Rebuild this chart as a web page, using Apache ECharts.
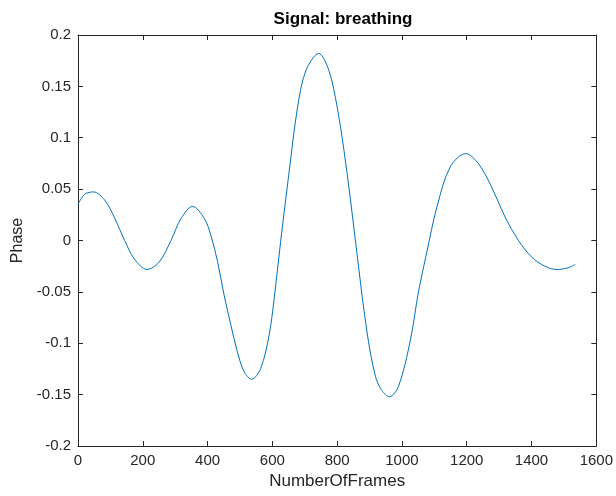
<!DOCTYPE html>
<html>
<head>
<meta charset="utf-8">
<script src="https://cdn.jsdelivr.net/npm/echarts@6/dist/echarts.min.js"></script>
<style>html,body{margin:0;padding:0;background:#fff;}#c{width:616px;height:496px;}</style>
</head>
<body>
<div id="c"></div>
<script>
const titleText = 'Signal: breathing';
const xLabel = 'NumberOfFrames';
const yLabel = 'Phase';
const frames = [0, 21, 48, 82, 113, 144, 174, 213, 251, 287, 318, 354, 390, 410, 431, 451, 472, 492, 513, 536, 564, 590, 605, 626, 651, 677, 703, 743, 774, 800, 820, 841, 867, 892, 918, 938, 962, 990, 1026, 1051, 1077, 1108, 1149, 1197, 1236, 1277, 1318, 1359, 1400, 1441, 1477, 1513, 1535];
const phase = [0.0353, 0.045, 0.0473, 0.0395, 0.022, 0.0, -0.0180, -0.0282, -0.0208, 0.0, 0.0214, 0.0332, 0.0214, 0.0052, -0.0208, -0.0532, -0.0824, -0.1084, -0.1278, -0.1350, -0.1245, -0.092, -0.058, 0.0003, 0.065, 0.128, 0.1650, 0.1820, 0.1660, 0.1300, 0.0900, 0.0400, -0.028, -0.0890, -0.1320, -0.1460, -0.1520, -0.1415, -0.097, -0.050, -0.0110, 0.0327, 0.0716, 0.0846, 0.0749, 0.052, 0.023, 0.0003, -0.016, -0.025, -0.0282, -0.0266, -0.0233];
const xTicks = [0, 1600, 200];
const yTicks = [-0.2, 0.2, 0.05];

const data = frames.map((f, i) => [f, phase[i]]);
const axisColor = '#262626';
const font = 'Liberation Sans, Arial, sans-serif';
const chart = echarts.init(document.getElementById('c'));
const baseAxis = {
  axisLine: { show: true, onZero: false, lineStyle: { color: axisColor, width: 1 } },
  axisTick: { show: true, inside: true, length: 5, lineStyle: { color: axisColor } },
  splitLine: { show: false },
  minorTick: { show: false }
};
chart.setOption({
  animation: false,
  backgroundColor: '#fff',
  title: {
    text: titleText, left: 338, top: 6, textAlign: 'center',
    textStyle: { fontFamily: font, fontSize: 17, fontWeight: 'bold', color: '#000' }
  },
  grid: { left: 78, right: 18, top: 35, bottom: 50, containLabel: false },
  xAxis: [
    Object.assign({}, baseAxis, {
      type: 'value', min: xTicks[0], max: xTicks[1], interval: xTicks[2], position: 'bottom',
      name: xLabel, nameLocation: 'middle', nameGap: 26,
      nameTextStyle: { fontFamily: font, fontSize: 17, color: axisColor },
      axisLabel: { fontFamily: font, fontSize: 15, color: axisColor, margin: 7,
        formatter: v => String(v) }
    }),
    Object.assign({}, baseAxis, {
      type: 'value', min: xTicks[0], max: xTicks[1], interval: xTicks[2], position: 'top',
      axisLabel: { show: false }
    })
  ],
  yAxis: [
    Object.assign({}, baseAxis, {
      type: 'value', min: yTicks[0], max: yTicks[1], interval: yTicks[2], position: 'left',
      name: yLabel, nameLocation: 'middle', nameGap: 52, nameRotate: 90,
      nameTextStyle: { fontFamily: font, fontSize: 16, color: axisColor },
      axisLabel: { fontFamily: font, fontSize: 15, color: axisColor, margin: 7,
        formatter: v => String(+v.toFixed(2)) }
    }),
    Object.assign({}, baseAxis, {
      type: 'value', min: yTicks[0], max: yTicks[1], interval: yTicks[2], position: 'right',
      axisLabel: { show: false }
    })
  ],
  series: [{
    type: 'line', data: data, smooth: 0.33, showSymbol: false, symbol: 'none',
    lineStyle: { color: '#0072BD', width: 1 }, xAxisIndex: 0, yAxisIndex: 0
  }]
});
</script>
</body>
</html>
